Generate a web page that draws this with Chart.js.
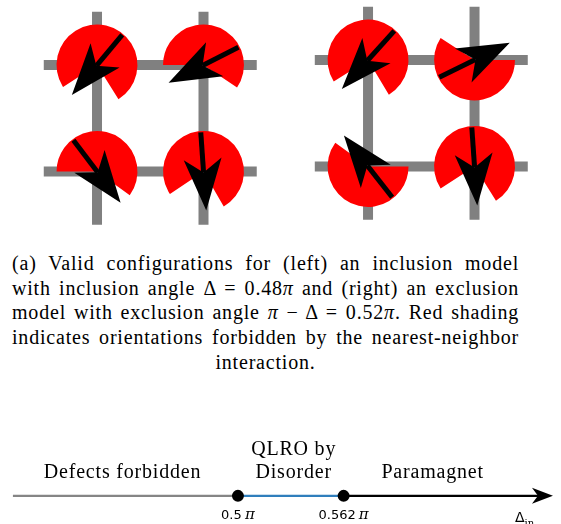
<!DOCTYPE html>
<html>
<head>
<meta charset="utf-8">
<script src="https://cdn.jsdelivr.net/npm/chart.js@4.4.0/dist/chart.umd.min.js"></script>
<style>
  html, body { margin: 0; padding: 0; background: #fff; }
  #page { position: relative; width: 561px; height: 524px; overflow: hidden; }
  #lattice-box { position: absolute; left: 0; top: 0; width: 561px; height: 230px; }
  #phase-box { position: absolute; left: 0; top: 420px; width: 561px; height: 104px; }
  #caption {
    position: absolute; left: 12px; top: 251px; width: 507px;
    font-family: 'Liberation Serif', serif; font-size: 20px; line-height: 24.7px;
    letter-spacing: 0.8px; color: #000;
  }
  #caption div { text-align: justify; text-align-last: justify; }
  #caption div.last { text-align: center; text-align-last: center; }
</style>
</head>
<body>
<div id="page">
  <div id="lattice-box"><canvas id="lattice"></canvas></div>
  <div id="caption">
    <div>(a) Valid configurations for (left) an inclusion model</div>
    <div>with inclusion angle Δ = 0.48<i>π</i> and (right) an exclusion</div>
    <div>model with exclusion angle <i>π</i> − Δ = 0.52<i>π</i>. Red shading</div>
    <div>indicates orientations forbidden by the nearest-neighbor</div>
    <div class="last">interaction.</div>
  </div>
  <div id="phase-box"><canvas id="phase"></canvas></div>
</div>
<script>
// ---- lattice panels (lattice units) ----
// left = inclusion model, right = exclusion model
const panelOriginX = [0, 2.545];
const panelOriginY = [0, -0.047];
const siteCol = [0, 1, 0, 1];
const siteRow = [0, 0, 1, 1];
// allowed (white) gap of each disc, degrees counter-clockwise from +x
const gapFrom = [[213, 180, 180, 214], [212, 0, 0, 213]];
const gapTo   = [[302, 326, 324, 300], [301, 147, 144, 302]];
// spin direction at each site, degrees
const spinAngle = [[230, 207, 307, 274], [228, 26, 128, 274]];

// ---- phase diagram along Δ_in (units of π) ----
const axisEdges = [0.368, 0.5, 0.562, 0.6848];
const segmentColors = ['#858585', '#2f7ebc', '#000000'];
const transitions = [0.5, 0.562];
const transitionLabels = ['0.5', '0.562'];
const phaseNames = [['Defects forbidden'], ['QLRO by', 'Disorder'], ['Paramagnet']];
const phaseNameX = [0.4323, 0.5327, 0.6142];
const axisLabelX = 0.669;

// ---------- lattice chart ----------
const bondExt = 0.5;
const bondDatasets = [];
panelOriginX.forEach((ox, p) => {
  const oy = panelOriginY[p];
  [0, 1].forEach(k => {
    bondDatasets.push({ data: [{x: ox - bondExt, y: oy + k}, {x: ox + 1 + bondExt, y: oy + k}] });
    bondDatasets.push({ data: [{x: ox + k, y: oy - bondExt}, {x: ox + k, y: oy + 1 + bondExt}] });
  });
});
bondDatasets.forEach(d => Object.assign(d, {
  borderColor: '#808080', borderWidth: 10, borderCapStyle: 'butt',
  pointRadius: 0, showLine: true, fill: false, clip: false
}));

const discRadius = 0.38;
const arrowHalf = 0.368, headBack = -0.118, headNotch = 0.01, headHalfWidth = 0.178;

const spinPlugin = {
  id: 'spins',
  afterDatasetsDraw(chart) {
    const {ctx, scales: {x, y}} = chart;
    const unit = x.getPixelForValue(1) - x.getPixelForValue(0);
    ctx.save();
    panelOriginX.forEach((ox, p) => {
      siteCol.forEach((c, i) => {
        const cx = x.getPixelForValue(ox + c);
        const cy = y.getPixelForValue(panelOriginY[p] + siteRow[i]);
        const rad = Math.PI / 180;
        // red = forbidden orientations
        ctx.beginPath();
        ctx.moveTo(cx, cy);
        ctx.arc(cx, cy, discRadius * unit, -gapTo[p][i] * rad, -gapFrom[p][i] * rad, true);
        ctx.closePath();
        ctx.fillStyle = '#ff0000';
        ctx.fill();

        // spin arrow
        const a = spinAngle[p][i] * rad;
        const ux = Math.cos(a), uy = -Math.sin(a);
        const nx = -uy, ny = ux;
        const at = (s, w) => [cx + (ux * s + nx * w) * unit, cy + (uy * s + ny * w) * unit];
        ctx.strokeStyle = '#000';
        ctx.lineWidth = 5;
        ctx.lineCap = 'butt';
        ctx.beginPath();
        ctx.moveTo(...at(-arrowHalf, 0));
        ctx.lineTo(...at(headNotch, 0));
        ctx.stroke();
        ctx.beginPath();
        ctx.moveTo(...at(arrowHalf, 0));
        ctx.lineTo(...at(headBack, headHalfWidth));
        ctx.lineTo(...at(headNotch, 0));
        ctx.lineTo(...at(headBack, -headHalfWidth));
        ctx.closePath();
        ctx.fillStyle = '#000';
        ctx.fill();
      });
    });
    ctx.restore();
  }
};

new Chart(document.getElementById('lattice'), {
  type: 'scatter',
  data: { datasets: bondDatasets },
  options: {
    responsive: true,
    maintainAspectRatio: false,
    animation: false,
    events: [],
    layout: { padding: 0 },
    plugins: { legend: { display: false }, tooltip: { enabled: false } },
    scales: {
      x: { type: 'linear', display: false, min: -0.911, max: 4.357 },
      y: { type: 'linear', display: false, reverse: true, min: -0.61, max: 1.55 }
    }
  },
  plugins: [spinPlugin]
});

// ---------- phase diagram chart ----------
const phaseDatasets = [{
  data: transitions.map(v => ({x: v, y: 0})),
  pointRadius: 6, pointBackgroundColor: '#000', pointBorderWidth: 0,
  showLine: false, clip: false
}];
segmentColors.forEach((col, i) => {
  phaseDatasets.push({
    data: [{x: axisEdges[i], y: 0}, {x: axisEdges[i + 1] - (i === 2 ? 0.006 : 0), y: 0}],
    borderColor: col, borderWidth: 2.2, pointRadius: 0, showLine: true, clip: false
  });
});

const phasePlugin = {
  id: 'phaseText',
  afterDatasetsDraw(chart) {
    const {ctx, scales: {x, y}} = chart;
    ctx.save();
    // arrow head at the end of the Δ_in axis
    const tip = x.getPixelForValue(axisEdges[3]);
    const y0 = y.getPixelForValue(0);
    ctx.fillStyle = '#000';
    ctx.beginPath();
    ctx.moveTo(tip, y0);
    ctx.lineTo(tip - 21, y0 - 8);
    ctx.lineTo(tip - 15, y0);
    ctx.lineTo(tip - 21, y0 + 8);
    ctx.closePath();
    ctx.fill();

    // phase names
    ctx.font = "20px 'Liberation Serif', serif";
    ctx.letterSpacing = '0.8px';
    ctx.textAlign = 'center';
    ctx.textBaseline = 'middle';
    phaseNames.forEach((lines, i) => {
      lines.forEach((txt, j) => {
        ctx.fillText(txt, x.getPixelForValue(phaseNameX[i]), y.getPixelForValue(lines.length - j));
      });
    });
    ctx.letterSpacing = '0px';

    // transition tick labels
    ctx.textBaseline = 'top';
    transitions.forEach((v, i) => {
      ctx.font = "13px 'DejaVu Sans', sans-serif";
      const num = transitionLabels[i] + ' ';
      const wNum = ctx.measureText(num).width - 1;
      ctx.font = "italic 15px 'DejaVu Serif', serif";
      const wPi = ctx.measureText('π').width;
      const left = x.getPixelForValue(v) - (wNum + wPi) / 2;
      const ty = y.getPixelForValue(-0.58);
      ctx.textAlign = 'left';
      ctx.font = "13px 'DejaVu Sans', sans-serif";
      ctx.fillText(num, left, ty);
      ctx.font = "italic 15px 'DejaVu Serif', serif";
      ctx.fillText('π', left + wNum, ty - 2);
    });

    // axis label Δ_in
    const lx = x.getPixelForValue(axisLabelX);
    const ly = y.getPixelForValue(-0.66);
    ctx.textAlign = 'left';
    ctx.font = "14px 'DejaVu Sans', sans-serif";
    const wD = ctx.measureText('Δ').width;
    ctx.fillText('Δ', lx - 11, ly);
    ctx.font = "10px 'DejaVu Serif', serif";
    ctx.fillText('in', lx - 11 + wD, ly + 7);
    ctx.restore();
  }
};

new Chart(document.getElementById('phase'), {
  type: 'scatter',
  data: { datasets: phaseDatasets },
  options: {
    responsive: true,
    maintainAspectRatio: false,
    animation: false,
    events: [],
    layout: { padding: 0 },
    plugins: { legend: { display: false }, tooltip: { enabled: false } },
    scales: {
      x: { type: 'linear', display: false, min: 0.36394, max: 0.686 },
      y: { type: 'linear', display: false, min: -0.95, max: 3 }
    }
  },
  plugins: [phasePlugin]
});
</script>
</body>
</html>
